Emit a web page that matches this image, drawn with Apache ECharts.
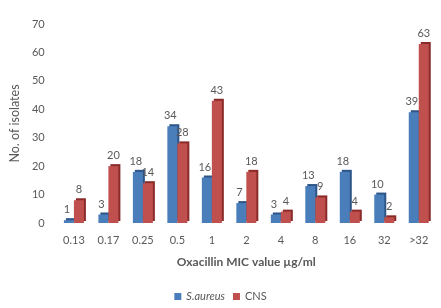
<!DOCTYPE html>
<html>
<head>
<meta charset="utf-8">
<script src="https://cdn.jsdelivr.net/npm/echarts@6/dist/echarts.min.js"></script>
<style>
html, body { margin: 0; padding: 0; background: #fff; }
#chart-container { width: 441px; height: 308px; }
</style>
</head>
<body>
<div id="chart-container"></div>
<script>
var micValues = ['0.13', '0.17', '0.25', '0.5', '1', '2', '4', '8', '16', '32', '>32'];
var aureusData = [1, 3, 18, 34, 16, 7, 3, 13, 18, 10, 39];
var cnsData = [8, 20, 14, 28, 43, 18, 4, 9, 4, 2, 63];

var chartDom = document.getElementById('chart-container');
var myChart = echarts.init(chartDom);
var textGray = '#595959';

var option = {
    animation: false,
    textStyle: { fontFamily: 'Lato' },
    grid: { left: 56, right: 5, top: 24, bottom: 85 },
    legend: {
        bottom: 1,
        left: 'center',
        itemWidth: 7,
        itemHeight: 7,
        itemGap: 8,
        icon: 'rect',
        data: ['S.aureus', 'CNS'],
        formatter: function (name) {
            return name === 'S.aureus' ? '{it|' + name + '}' : name;
        },
        textStyle: {
            color: textGray,
            fontSize: 11,
            rich: { it: { fontStyle: 'italic', color: textGray, fontSize: 11 } }
        }
    },
    xAxis: {
        type: 'category',
        data: micValues,
        name: 'Oxacillin MIC value µg/ml',
        nameLocation: 'middle',
        nameGap: 33,
        nameTextStyle: { color: textGray, fontSize: 12, fontWeight: 'bold' },
        axisLine: { show: false },
        axisTick: { show: false },
        axisLabel: { color: textGray, fontSize: 11, margin: 12 }
    },
    yAxis: {
        type: 'value',
        min: 0,
        max: 70,
        interval: 10,
        name: 'No. of isolates',
        nameLocation: 'middle',
        nameGap: 28,
        nameTextStyle: { color: textGray, fontSize: 12.5 },
        axisLine: { show: false },
        axisTick: { show: false },
        splitLine: { show: false },
        axisLabel: { color: textGray, fontSize: 11, margin: 12 }
    },
    series: [
        {
            name: 'S.aureus',
            type: 'bar',
            data: aureusData,
            barWidth: 10,
            barGap: '0%',
            itemStyle: {
                color: '#4a7ebb',
                shadowColor: '#2d5588',
                shadowBlur: 0,
                shadowOffsetX: 2,
                shadowOffsetY: -2
            },
            label: {
                show: true,
                position: 'top',
                distance: 5,
                offset: [-2, 0],
                color: textGray,
                fontSize: 11
            }
        },
        {
            name: 'CNS',
            type: 'bar',
            data: cnsData,
            barWidth: 10,
            itemStyle: {
                color: '#c0504d',
                shadowColor: '#8a2b29',
                shadowBlur: 0,
                shadowOffsetX: 2,
                shadowOffsetY: -2
            },
            label: {
                show: true,
                position: 'top',
                distance: 5,
                color: textGray,
                fontSize: 11
            }
        }
    ]
};
myChart.setOption(option);
</script>
</body>
</html>
